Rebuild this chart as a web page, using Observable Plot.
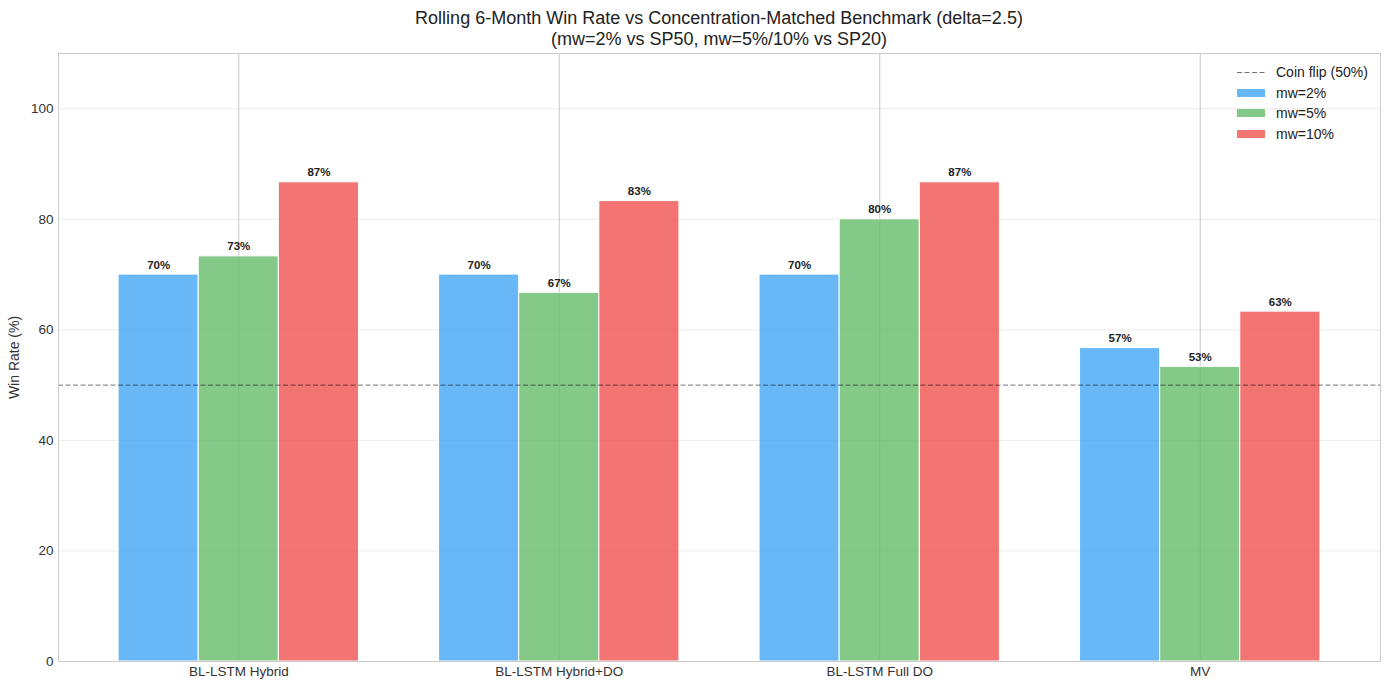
<!DOCTYPE html>
<html>
<head>
<meta charset="utf-8">
<script src="https://cdn.jsdelivr.net/npm/d3@7"></script>
<script src="https://cdn.jsdelivr.net/npm/@observablehq/plot@0.6"></script>
<style>
  html, body { margin: 0; padding: 0; background: #fff; }
  body { font-family: "Liberation Sans", Arial, sans-serif; }
  #wrap { position: relative; width: 1389px; height: 690px; overflow: hidden; }
  #title { position: absolute; left: 58px; width: 1322px; top: 8px; text-align: center; font-size: 18px; line-height: 21px; color: #222; }
  #chart { position: absolute; left: 0; top: 50px; }
  #legend { position: absolute; left: 1237px; top: 62px; font-size: 14px; color: #222; }
  .li { display: flex; align-items: center; height: 20.5px; }
  .sw { width: 28px; height: 8px; margin-right: 11px; }
  .dash { width: 28px; height: 8px; margin-right: 11px; display: block; }
</style>
</head>
<body>
<div id="wrap">
  <div id="title">Rolling 6-Month Win Rate vs Concentration-Matched Benchmark (delta=2.5)<br>(mw=2% vs SP50, mw=5%/10% vs SP20)</div>
  <div id="chart"></div>
  <div id="legend"></div>
</div>
<script>
const strategies = ["BL-LSTM Hybrid", "BL-LSTM Hybrid+DO", "BL-LSTM Full DO", "MV"];
const seriesNames = ["mw=2%", "mw=5%", "mw=10%"];
const mw2 = [70, 70, 70, 56.7];
const mw5 = [73.3, 66.7, 80, 53.3];
const mw10 = [86.7, 83.3, 86.7, 63.3];
const colors = ["#42A5F5", "#66BB6A", "#EF5350"];
const yTicks = [0, 20, 40, 60, 80, 100];
const coinFlip = 50;
const legendItems = ["Coin flip (50%)", ...seriesNames];

// grouped-bar layout (like matplotlib: x = arange(n) + offset * width)
const seriesValues = [mw2, mw5, mw10];
const barWidth = 0.25;
const n = seriesNames.length;
const rows = [];
strategies.forEach((s, i) => {
  seriesNames.forEach((m, j) => {
    const xc = i + (j - (n - 1) / 2) * barWidth;
    rows.push({strategy: s, series: m, value: seriesValues[j][i], xc, x1: xc - barWidth / 2, x2: xc + barWidth / 2});
  });
});
const catIdx = strategies.map((_, i) => i);
const lo = d3.min(rows, d => d.x1), hi = d3.max(rows, d => d.x2);
const pad = (hi - lo) * 0.05;

const svg = Plot.plot({
  width: 1389,
  height: 640,
  marginLeft: 58,
  marginRight: 9,
  marginTop: 3,
  marginBottom: 29,
  style: {fontFamily: "'Liberation Sans', Arial, sans-serif", fontSize: "13.5px", color: "#333", background: "#fff"},
  x: {domain: [lo - pad, hi + pad], axis: null},
  y: {domain: [0, 110], axis: null},
  color: {domain: seriesNames, range: colors},
  marks: [
    Plot.gridY(yTicks, {stroke: "#ebebeb", strokeOpacity: 1, strokeWidth: 1}),
    Plot.gridX(catIdx, {stroke: "#c8c8c8", strokeOpacity: 1, strokeWidth: 1}),
    Plot.rectY(rows, {x1: "x1", x2: "x2", y: "value", fill: "series", fillOpacity: 0.8, stroke: "#fff", strokeWidth: 1}),
    Plot.ruleY([coinFlip], {stroke: "#000", strokeOpacity: 0.55, strokeWidth: 1, strokeDasharray: "5,2.5"}),
    Plot.text(rows, {x: "xc", y: "value", text: d => Math.round(d.value) + "%", dy: -6, lineAnchor: "bottom", fontWeight: "bold", fontSize: 11.5, fill: "#222"}),
    Plot.axisY({ticks: yTicks, tickSize: 0, tickPadding: 5, fontSize: 13.5, label: null}),
    Plot.axisY({ticks: [], tickSize: 0, fontSize: 14, label: "Win Rate (%)", labelArrow: "none", labelAnchor: "center", labelOffset: 49}),
    Plot.axisX({ticks: catIdx, tickFormat: i => strategies[i], anchor: "bottom", tickSize: 0, tickPadding: 5, fontSize: 13.5, label: null}),
    Plot.frame({stroke: "#cccccc", strokeWidth: 1})
  ]
});
document.getElementById("chart").appendChild(svg);

const legend = document.getElementById("legend");
const NS = "http://www.w3.org/2000/svg";
legendItems.forEach((name, k) => {
  const row = document.createElement("div");
  row.className = "li";
  let sw;
  if (k === 0) {
    sw = document.createElementNS(NS, "svg");
    sw.setAttribute("class", "dash");
    sw.setAttribute("width", "28"); sw.setAttribute("height", "8");
    const ln = document.createElementNS(NS, "line");
    ln.setAttribute("x1", "0"); ln.setAttribute("x2", "28");
    ln.setAttribute("y1", "4.5"); ln.setAttribute("y2", "4.5");
    ln.setAttribute("stroke", "#000"); ln.setAttribute("stroke-opacity", "0.55");
    ln.setAttribute("stroke-dasharray", "5,2.5");
    sw.appendChild(ln);
  } else {
    sw = document.createElement("div");
    sw.className = "sw"; sw.style.background = colors[k - 1]; sw.style.opacity = 0.8;
  }
  const t = document.createElement("span");
  t.textContent = name;
  row.appendChild(sw); row.appendChild(t);
  legend.appendChild(row);
});
</script>
</body>
</html>
